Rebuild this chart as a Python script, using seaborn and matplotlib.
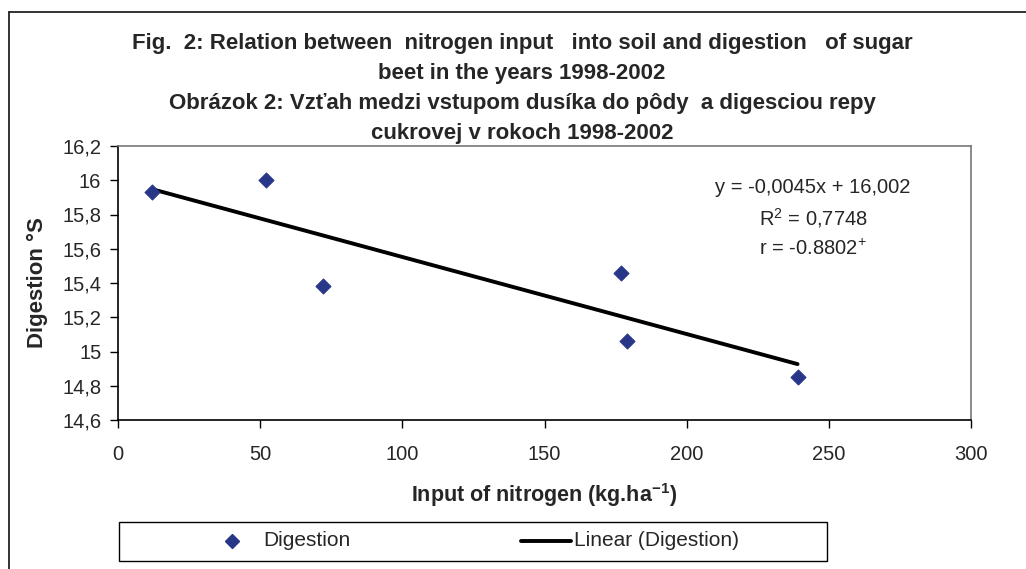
import numpy as np
import pandas as pd
import matplotlib
matplotlib.use("Agg")
import matplotlib.pyplot as plt
from matplotlib.lines import Line2D
from matplotlib.patches import Rectangle
import seaborn as sns

# data
nitrogen = [12, 52, 72, 177, 179, 239]
digestion = [15.93, 16.00, 15.38, 15.46, 15.06, 14.85]
slope = -0.0045
intercept = 16.002
x_ticks = [0, 50, 100, 150, 200, 250, 300]
y_ticks = [14.6, 14.8, 15.0, 15.2, 15.4, 15.6, 15.8, 16.0, 16.2]
y_tick_labels = ["14,6", "14,8", "15", "15,2", "15,4", "15,6", "15,8", "16", "16,2"]

df = pd.DataFrame({"Nitrogen": nitrogen, "Digestion": digestion})

sns.set_theme(style="white")
plt.rcParams["font.family"] = ["Liberation Sans", "DejaVu Sans"]
plt.rcParams["mathtext.fontset"] = "custom"
plt.rcParams["mathtext.rm"] = "Liberation Sans"
plt.rcParams["mathtext.bf"] = "Liberation Sans:bold"

W, H = 1026, 569
fig = plt.figure(figsize=(W / 100, H / 100), dpi=100)
ax = fig.add_axes([118 / W, 1 - 420 / H, (971 - 118) / W, (420 - 146) / H])

blue = "#283688"
sns.scatterplot(data=df, x="Nitrogen", y="Digestion", marker="D", s=60,
                color=blue, edgecolor=blue, ax=ax, zorder=3)

xs = np.array([min(nitrogen), max(nitrogen)])
sns.lineplot(x=xs, y=slope * xs + intercept, color="black", lw=2.8, ax=ax, zorder=2)

ax.set_xlim(0, 300)
ax.set_ylim(14.6, 16.2)
ax.set_xticks(x_ticks)
ax.set_xticklabels([str(t) for t in x_ticks], fontsize=14.5)
ax.set_yticks(y_ticks)
ax.set_yticklabels(y_tick_labels, fontsize=14.5)
ax.tick_params(axis="both", direction="out", length=6, width=1, color="black",
               bottom=True, left=True)
ax.tick_params(axis="y", pad=6)
ax.tick_params(axis="x", pad=12)
for side in ["left", "bottom"]:
    ax.spines[side].set_color("black")
    ax.spines[side].set_linewidth(1.2)
for side in ["top", "right"]:
    ax.spines[side].set_color("#777777")
    ax.spines[side].set_linewidth(1.2)

ax.set_xlabel("Input of nitrogen (kg.ha$^{\\mathbf{-1}}$)", fontsize=15.5,
              fontweight="bold", labelpad=12)
ax.set_ylabel("Digestion °S", fontsize=16, fontweight="bold", labelpad=10)

ax.text(813 / W, 1 - 178 / H, "y = -0,0045x + 16,002\nR$^2$ = 0,7748\nr = -0.8802$^{+}$",
        transform=fig.transFigure, ha="center", va="top", fontsize=14.5,
        linespacing=1.5)

title_lines = [
    (43, "Fig.  2: Relation between  nitrogen input   into soil and digestion   of sugar"),
    (73, "beet in the years 1998-2002"),
    (104, "Obrázok 2: Vzťah medzi vstupom dusíka do pôdy  a digesciou repy"),
    (133, "cukrovej v rokoch 1998-2002"),
]
for y, line in title_lines:
    fig.text(522 / W, 1 - y / H, line, ha="center", va="center", fontsize=16,
             fontweight="bold")

# legend box drawn below the plot area
fig.add_artist(Rectangle((119 / W, 1 - 561 / H), (827 - 119) / W, (561 - 522) / H,
                         transform=fig.transFigure, fill=False, edgecolor="black", lw=1))
ly = 1 - 541 / H
fig.add_artist(Line2D([232 / W], [ly], marker="D", color=blue, markersize=7.5,
                      linestyle="none", transform=fig.transFigure))
fig.text(263 / W, ly, "Digestion", ha="left", va="center", fontsize=15)
fig.add_artist(Line2D([521 / W, 571 / W], [ly, ly], color="black", lw=2.8,
                      transform=fig.transFigure))
fig.text(574 / W, ly, "Linear (Digestion)", ha="left", va="center", fontsize=15)

# outer chart border (top and left edges visible)
fig.add_artist(Line2D([9 / W, 9 / W], [0, 1 - 12 / H], color="#222222", lw=1.3,
                      transform=fig.transFigure))
fig.add_artist(Line2D([9 / W, 1], [1 - 12 / H, 1 - 12 / H], color="#222222", lw=1.3,
                      transform=fig.transFigure))

fig.savefig("out.png", dpi=100)
